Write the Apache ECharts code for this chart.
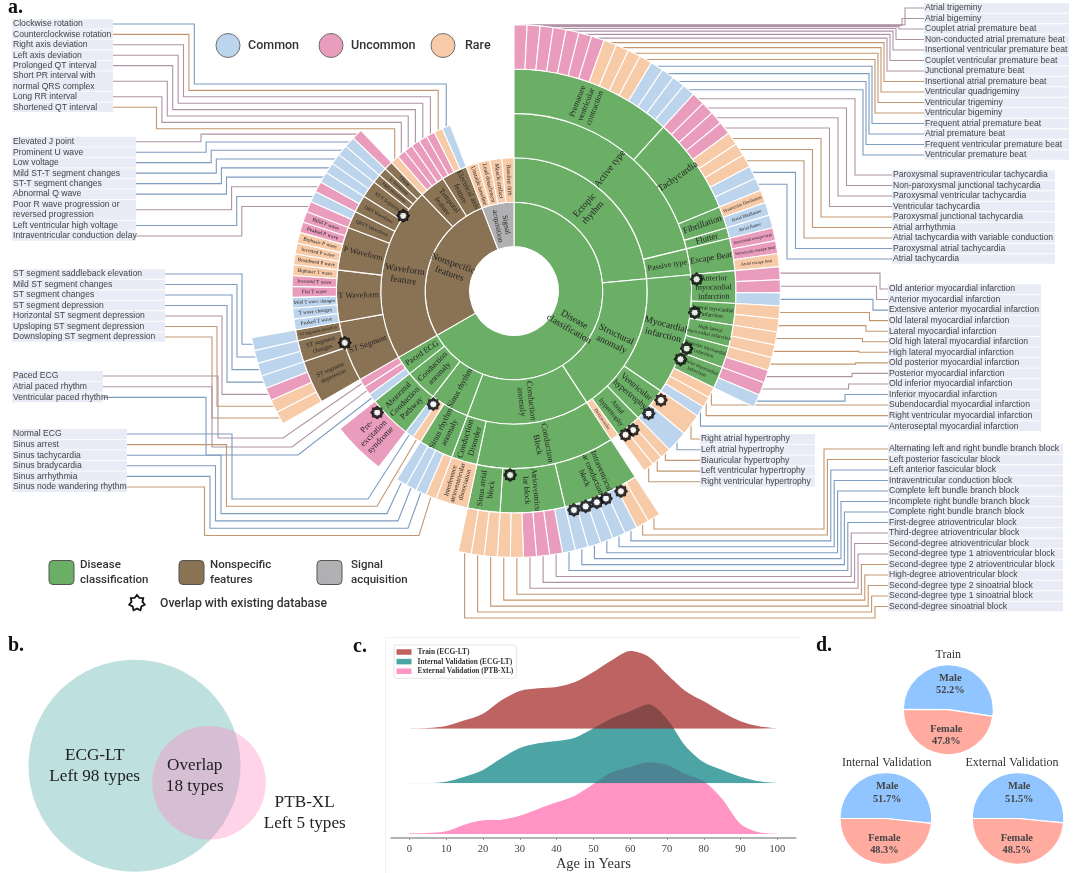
<!DOCTYPE html>
<html><head><meta charset="utf-8"><style>html,body{margin:0;padding:0;background:#fff}#c{width:1080px;height:873px}</style>
<script src="https://cdn.jsdelivr.net/npm/echarts@6/dist/echarts.min.js"></script></head>
<body><div id="c"></div>
<script>
// ---------- DATA: panel a, outermost categories, clockwise from 12 o'clock ----------
const premature=['Atrial trigeminy','Atrial bigeminy','Couplet atrial premature beat','Non-conducted atrial premature beat','Insertional ventricular premature beat','Couplet ventricular premature beat','Junctional premature beat','Insertional atrial premature beat','Ventricular quadrigeminy','Ventricular trigeminy','Ventricular bigeminy','Frequent atrial premature beat','Atrial premature beat','Frequent ventricular premature beat','Ventricular premature beat'];
const prematureCls='UUUUUUURRRRCCCC';
const tachycardia=['Paroxysmal supraventricular tachycardia','Non-paroxysmal junctional tachycardia','Paroxysmal ventricular tachycardia','Ventricular tachycardia','Paroxysmal junctional tachycardia','Atrial arrhythmia','Atrial tachycardia with variable conduction','Paroxysmal atrial tachycardia','Atrial tachycardia'];
const tachycardiaCls='UUUURRRCC';
const fibrillation=['Ventricular fibrillation','Atrial fibrillation'], fibrillationCls='RC';
const flutter=['Atrial flutter'], flutterCls='C';
const escapeBeat=['Junctional escape beat','Ventricular escape beat','Atrial escape beat'], escapeCls='UUR';
const miAnterior=['Old anterior myocardial infarction','Anterior myocardial infarction','Extensive anterior myocardial infarction'], miAnteriorCls='UUC';
const miLateral=['Old lateral myocardial infarction','Lateral myocardial infarction'], miLateralCls='RR';
const miHigh=['Old high lateral myocardial infarction','High lateral myocardial infarction'], miHighCls='RR';
const miPosterior=['Old posterior myocardial infarction','Posterior myocardial infarction'], miPosteriorCls='RU';
const miInferior=['Old inferior myocardial infarction','Inferior myocardial infarction'], miInferiorCls='UC';
const miOther=['Subendocardial myocardial infarction','Right ventricular myocardial infarction','Anteroseptal myocardial infarction'], miOtherCls='RRC';
const hyperA=['Right atrial hypertrophy','Left atrial hypertrophy'], hyperACls='RC';
const hyperB=['Biauricular hypertrophy','Left ventricular hypertrophy','Right ventricular hypertrophy'], hyperBCls='RRR';
const ivBlock=['Alternating left and right bundle branch block','Left posterior fascicular block','Left anterior fascicular block','Intraventricular conduction block','Complete left bundle branch block','Incomplete right bundle branch block','Complete right bundle branch block'], ivBlockCls='RRCCCCC';
const avBlock=['First-degree atrioventricular block','Third-degree atrioventricular block','Second-degree atrioventricular block','Second-degree type 1 atrioventricular block','Second-degree type 2 atrioventricular block','High-degree atrioventricular block'], avBlockCls='CUUURR';
const saBlock=['Second-degree type 2 sinoatrial block','Second-degree type 1 sinoatrial block','Second-degree sinoatrial block'], saBlockCls='RRR';
const sinusAnomaly=['Sinus node wandering rhythm','Sinus arrhythmia','Sinus bradycardia','Sinus tachycardia'], sinusAnomalyCls='RCCC';
const paced=['Ventricular paced rhythm','Atrial paced rhythm','Paced ECG'], pacedCls='CUU';
const stDepression=['Downsloping ST segment depression','Upsloping ST segment depression','Horizontal ST segment depression','ST segment depression'], stDepressionCls='RRUC';
const stChanges=['ST segment changes','Mild ST segment changes'], stChangesCls='CC';
const stElevation=['ST segment saddleback elevation'], stElevationCls='C';
const tWave=['Peaked T wave','T wave changes','Mild T wave changes','Flat T wave','Inverted T wave','Biphasic T wave'], tWaveCls='CCCUUR';
const pWave=['Broadened P wave','Inverted P wave','Biphasic P wave','Peaked P wave','Bifid P wave'], pWaveCls='RRRUU';
const qrstWave=['Intraventricular conduction delay','Left ventricular high voltage'], qrstCls='UC';
const qrsWave=['Poor R wave progression or reversed progression','Abnormal Q wave'], qrsCls='UC';
const sttSeg=['ST-T segment changes','Mild ST-T segment changes'], sttCls='CC';
const temporal=['Shortened QT interval','Long RR interval','Short PR interval with normal QRS complex','Prolonged QT interval'], temporalCls='RUUU';
const axisFeat=['Left axis deviation','Right axis deviation','Counterclockwise rotation','Clockwise rotation'], axisCls='UURC';
const signalCells=['Unstable baseline','Lead detachment','Muscle artifact','Baseline drift'];
// angular weights of the wider cells, in units of one ordinary leaf
const leafWeights={'Right atrial hypertrophy':2,'Left atrial hypertrophy':2,'Interference atrioventricular dissociation':3,'Pre-excitation syndrome':5,'Unstable baseline':1.86,'Lead detachment':1.86,'Muscle artifact':1.86,'Baseline drift':1.86};
const leafText={'Ventricular fibrillation':['Ventricular fibrillation',4.6],'Atrial fibrillation':['Atrial fibrillation',4.6],'Atrial flutter':['Atrial flutter',4.6],'Junctional escape beat':['Junctional escape beat',4.4],'Ventricular escape beat':['Ventricular escape beat',4.4],'Atrial escape beat':['Atrial escape beat',4.4],'Dextrocardia':['Dextrocardia',4.6],'Interference atrioventricular dissociation':['Interference\natrioventricular\ndissociation',6.6],'Pre-excitation syndrome':['Pre-\nexcitation\nsyndrome',8.5],'Bifid P wave':['Bifid P wave',5.4],'Peaked P wave':['Peaked P wave',5.4],'Biphasic P wave':['Biphasic P wave',5.2],'Inverted P wave':['Inverted P wave',5.2],'Broadened P wave':['Broadened P wave',5],'Biphasic T wave':['Biphasic T wave',5.2],'Inverted T wave':['Inverted T wave',5.2],'Flat T wave':['Flat T wave',5.2],'Mild T wave changes':['Mild T wave changes',4.8],'T wave changes':['T wave changes',5.2],'Peaked T wave':['Peaked T wave',5.2],'Unstable baseline':['Unstable baseline',5.8],'Lead detachment':['Lead detachment',5.8],'Muscle artifact':['Muscle artifact',5.8],'Baseline drift':['Baseline drift',5.8]};
// leader-line label lists, top to bottom
const listTemporal=['Clockwise rotation','Counterclockwise rotation','Right axis deviation','Left axis deviation','Prolonged QT interval','Short PR interval with\nnormal QRS complex','Long RR interval','Shortened QT interval'];
const listWave=['Elevated J point','Prominent U wave','Low voltage','Mild ST-T segment changes','ST-T segment changes','Abnormal Q wave','Poor R wave progression or\nreversed progression','Left ventricular high voltage','Intraventricular conduction delay'];
const listST=['ST segment saddleback elevation','Mild ST segment changes','ST segment changes','ST segment depression','Horizontal ST segment depression','Upsloping ST segment depression','Downsloping ST segment depression'];
const listPaced=['Paced ECG','Atrial paced rhythm','Ventricular paced rhythm'];
const listSinus=['Normal ECG','Sinus arrest','Sinus tachycardia','Sinus bradycardia','Sinus arrhythmia','Sinus node wandering rhythm'];
const listMI=['Old anterior myocardial infarction','Anterior myocardial infarction','Extensive anterior myocardial infarction','Old lateral myocardial infarction','Lateral myocardial infarction','Old high lateral myocardial infarction','High lateral myocardial infarction','Old posterior myocardial infarction','Posterior myocardial infarction','Old inferior myocardial infarction','Inferior myocardial infarction','Subendocardial myocardial infarction','Right ventricular myocardial infarction','Anteroseptal myocardial infarction'];
const listHyper=['Right atrial hypertrophy','Left atrial hypertrophy','Biauricular hypertrophy','Left ventricular hypertrophy','Right ventricular hypertrophy'];
const listBlock=ivBlock.concat(avBlock,saBlock);
// star markers: overlap with existing database [radius, angle]
const overlapRadius=[183,182,182,180,183,182,183,182,227,227,227,227,227,184,139,183,177,134];
const overlapAngle=[86.3,96.8,108.4,112.3,126.6,132.3,139.4,142.2,151.9,156.1,158.6,161.6,164.7,181.2,215.5,228.4,253,304.2];
// ---------- DATA: panel c ----------
const ages=[0,5,10,15,20,25,30,35,40,45,50,55,60,65,70,75,80,85,90,95,100];
const densityTrain=[0,2,8,25,45,85,113,121,125,140,170,205,233,216,163,113,82,50,22,7,1];
const densityInternal=[1,1,5,20,40,75,106,120,127,137,165,195,216,237,193,112,63,40,20,6,1];
const densityExternal=[2,3,8,28,41,43,55,75,95,115,150,185,201,215,207,180,158,105,30,5,1];
const ageTicks=[0,10,20,30,40,50,60,70,80,90,100];
// ---------- DATA: panel d ----------
const sexNames=['Male','Female'];
const sexTrain=[52.2,47.8], sexInternal=[51.7,48.3], sexExternal=[51.5,48.5];

// ---------- layout & style ----------
const CX=514,CY=291,RING=44.4;
const CLS={C:'#bcd4ec',U:'#ea9cbd',R:'#f7caa8'};
const LINE={C:'#7c9cc0',U:'#ae93a5',R:'#c3966f'};
const GREEN='#6bae65',BROWN='#8a7354',GREY='#b0b0b2';
const SERIF='"Liberation Serif",serif', SANS='"Liberation Sans",sans-serif', UI='Roboto,sans-serif';

function leaves(names,cls){return names.map((n,i)=>({leaf:1,name:n,cls:cls?cls[i]:'R',value:leafWeights[n]||1}));}
function b(name,text,size,children){return {name,text,size,children};}
const treeSpec=[
 {...b('Disease classification','Disease\nclassification',9.5,[
   b('Ectopic rhythm','Ectopic\nrhythm',9.5,[
     b('Active type','Active type',9.5,[
       b('Premature ventricular contraction','Premature\nventricular\ncontraction',8,leaves(premature,prematureCls)),
       b('Tachycardia','Tachycardia',9.5,leaves(tachycardia,tachycardiaCls)),
       b('Fibrillation','Fibrillation',9,leaves(fibrillation,fibrillationCls)),
       b('Flutter','Flutter',8.5,leaves(flutter,flutterCls))]),
     b('Passive type','Passive type',8,[b('Escape Beat','Escape Beat',8.5,leaves(escapeBeat,escapeCls))])]),
   b('Structural anomaly','Structural\nanomaly',9.5,[
     b('Myocardial infarction','Myocardial\ninfarction',9.5,[
       b('Anterior myocardial infarction','Anterior\nmyocardial\ninfarction',8,leaves(miAnterior,miAnteriorCls)),
       b('Lateral myocardial infarction','Lateral myocardial\ninfarction',5.5,leaves(miLateral,miLateralCls)),
       b('High lateral myocardial infarction','High lateral\nmyocardial infarction',5.2,leaves(miHigh,miHighCls)),
       b('Posterior myocardial infarction','Posterior myocardial\ninfarction',5.2,leaves(miPosterior,miPosteriorCls)),
       b('Inferior myocardial infarction','Inferior myocardial\ninfarction',5.2,leaves(miInferior,miInferiorCls))
     ].concat(leaves(miOther,miOtherCls))),
     b('Ventricular hypertrophy','Ventricular\nhypertrophy',8.5,leaves(hyperA,hyperACls)),
     b('Atrial hypertrophy','Atrial\nhypertrophy',7,leaves(hyperB,hyperBCls))
   ].concat(leaves(['Dextrocardia'],'R'))),
   b('Conduction anomaly','Conduction\nanomaly',8.5,[
     b('Conduction Block','Conduction\nBlock',8.5,[
       b('Intraventricular conduction block group','Intraventricul\nar conduction\nblock',8,leaves(ivBlock,ivBlockCls)),
       b('Atrioventricular block','Atrioventricu\nlar block',8,leaves(avBlock,avBlockCls)),
       b('Sinus atrial block','Sinus atrial\nblock',8,leaves(saBlock,saBlockCls))]),
     b('Conduction Disorder','Conduction\nDisorder',8.5,leaves(['Interference atrioventricular dissociation'],'R'))]),
   b('Sinus rhythm','Sinus rhythm',8.2,[
     b('Sinus rhythm anomaly','Sinus rhythm\nanomaly',8.2,leaves(sinusAnomaly,sinusAnomalyCls))
   ].concat(leaves(['Sinus arrest','Normal ECG'],'RC'))),
   b('Conduction pathway','Conduction\nanomaly',8.2,[
     b('Abnormal Conduction Pathway','Abnormal\nConduction\nPathway',8.2,leaves(['Pre-excitation syndrome'],'U'))]),
   b('Paced ECG group','Paced ECG',8.2,leaves(paced,pacedCls))
 ]),base:GREEN},
 {...b('Nonspecific features','Nonspecific\nfeatures',9.5,[
   b('Waveform feature','Waveform\nfeature',9.5,[
     b('ST Segment','ST Segment',8,[
       b('ST depression group','ST segment\ndepression',6.2,leaves(stDepression,stDepressionCls)),
       b('ST changes group','ST segment\nchanges',6.2,leaves(stChanges,stChangesCls)),
       b('ST elevation group','ST segment elevation',4.4,leaves(stElevation,stElevationCls))]),
     b('T Waveform','T Waveform',8,leaves(tWave,tWaveCls)),
     b('P Waveform','P Waveform',8,leaves(pWave,pWaveCls)),
     b('QRST Waveform','QRST Waveform',5,leaves(qrstWave,qrstCls)),
     b('QRS Waveform','QRS Waveform',5,leaves(qrsWave,qrsCls)),
     b('ST-T Segment','ST-T Segment',5,leaves(sttSeg,sttCls)),
     b('PR Waveform','P&R Waveform',4.6,leaves(['Low voltage'],'C')),
     b('U Waveform','U Waveform',4.6,leaves(['Prominent U wave'],'C')),
     b('J Point','J Point',4.6,leaves(['Elevated J point'],'U'))]),
   b('Temporal feature','Temporal\nfeature',7.5,leaves(temporal,temporalCls)),
   b('Electrical axis feature','Electrical axis\nfeature',7.5,leaves(axisFeat,axisCls))
 ]),base:BROWN},
 {...b('Signal acquisition','Signal\nacquisition',7.5,leaves(signalCells,'RRRR')),base:GREY}
];

// Build sunburst nodes and keep each leaf's angular position for the leader lines
const leafGeo={};
function totalOf(n){return n.children?n.children.reduce((s,c)=>s+totalOf(c),0):n.value;}
const totalUnits=treeSpec.reduce((s,n)=>s+totalOf(n),0);
const degPerUnit=360/totalUnits;
let cursor=0;
function toNode(spec,color,depth){
  if(spec.leaf){
    const w=spec.value*degPerUnit; leafGeo[spec.name]={mid:cursor+w/2,r:RING*(depth+1),cls:spec.cls}; cursor+=w;
    const t=leafText[spec.name];
    return {name:spec.name,value:spec.value,itemStyle:{color:CLS[spec.cls]},
      label:t?{show:true,formatter:t[0],fontSize:t[1],rotate:'radial',color:'#222',fontFamily:SERIF,lineHeight:t[1]*1.12}:{show:false}};
  }
  return {name:spec.name,itemStyle:{color},children:spec.children.map(c=>toNode(c,color,depth+1)),
    label:{show:true,formatter:spec.text,fontSize:spec.size,rotate:'radial',color:'#222',fontFamily:SERIF,lineHeight:spec.size*1.15}};
}
const sunData=treeSpec.map(s=>toNode(s,s.base,1));
function pt(name,r){const g=leafGeo[name.replace('\n',' ')],a=g.mid*Math.PI/180,R=r||g.r;return [CX+R*Math.sin(a),CY-R*Math.cos(a)];}
function lineCol(name){return LINE[leafGeo[name.replace('\n',' ')].cls];}

// ---------- graphic helpers ----------
const gfx=[];
function txt(x,y,text,o){o=o||{};gfx.push({type:'text',silent:true,z:o.z||20,style:{x,y,text,fontSize:o.size||10,fontFamily:o.font||SANS,fontWeight:o.weight||'normal',fill:o.fill||'#333',align:o.align||'left',textAlign:o.align||'left',verticalAlign:'middle',textVerticalAlign:'middle',lineHeight:o.lh||undefined}});}
function rect(x,y,w,h,fill,o){o=o||{};gfx.push({type:'rect',silent:true,z:o.z||1,shape:{x,y,width:w,height:h,r:o.r||0},style:{fill,stroke:o.stroke||null,lineWidth:o.lw||0}});}
function circle(x,y,r,fill,o){o=o||{};gfx.push({type:'circle',silent:true,z:o.z||1,shape:{cx:x,cy:y,r},style:{fill,stroke:o.stroke||null,lineWidth:o.lw||0}});}
function poly(points,stroke){gfx.push({type:'polyline',silent:true,z:2,shape:{points},style:{stroke,lineWidth:1.1,fill:null}});}
function starPts(cx,cy,R,r,n){const p=[];for(let i=0;i<2*n;i++){const a=Math.PI*i/n-Math.PI/2,q=i%2?r:R;p.push([cx+q*Math.cos(a),cy+q*Math.sin(a)]);}return p;}

// label list: rows with background, returns the centre y of each entry
function list(labels,x,w,y0,pitch,size){
  let row=0;const ys=[];
  labels.forEach(l=>{const lines=l.split('\n');
    rect(x,y0+row*pitch-pitch/2+0.4,w,lines.length*pitch-0.8,'#e9ecf6');
    lines.forEach((t,k)=>txt(x+1,y0+(row+k)*pitch,t,{size:size||8.6,fill:'#444'}));
    ys.push(y0+(row+(lines.length-1)/2)*pitch);row+=lines.length;});
  return ys;
}
// left lists
list(listTemporal,12,101,24,10.4).forEach((y,i)=>{const n=listTemporal[i],p=pt(n),X=194.3-i*5.4,Y=84+i*6.4;poly([[113,y],[X,y],[X,Y],[p[0],Y],p],lineCol(n));});
list(listWave,12,124,141.7,10.48).forEach((y,i)=>{const n=listWave[i],p=pt(n),X=201+i*5.1;poly([[136,y],[X,y],[X,p[1]],p],lineCol(n));});
list(listST,12,153,274,10.5).forEach((y,i)=>{const n=listST[i],p=pt(n),X=242-i*5;poly([[165,y],[X,y],[X,p[1]],p],lineCol(n));});
const pacedX=[218,212,206],pacedY=[438,447,455],pacedD=[283,292,298];
list(listPaced,12,91,376,10.7).forEach((y,i)=>{const n=listPaced[i],p=pt(n);poly([[103,y],[pacedX[i],y],[pacedX[i],pacedY[i]],[pacedD[i],pacedY[i]],p],lineCol(n));});
const sinusD=[368,377,387,398,408,419];
list(listSinus,12,115,434,10.6).forEach((y,i)=>{const n=listSinus[i],p=pt(n),X=232-i*5.5,Y=499+i*7.3;poly([[127,y],[X,y],[X,Y],[sinusD[i],Y],p],lineCol(n));});
// right lists
list(premature,924,145,8,10.5).forEach((y,i)=>{const n=premature[i],p=pt(n),X=905-i*3;poly([p,[X,p[1]],[X,y],[924,y]],lineCol(n));});
list(tachycardia,892,163,175,10.5).forEach((y,i)=>{const n=tachycardia[i],p=pt(n),X=787+(8-i)*8.5;poly([p,[X,p[1]],[X,y],[892,y]],lineCol(n));});
list(listMI,888,153,289,10.55).forEach((y,i)=>{const n=listMI[i],p=pt(n);
  if(i<11){const X=880-i*3.5;poly([p,[X,p[1]],[X,y],[888,y]],lineCol(n));}else poly([p,[p[0],y],[888,y]],lineCol(n));});
list(listHyper,700,115,439,10.7).forEach((y,i)=>{const n=listHyper[i],p=pt(n);poly([p,[p[0],y],[700,y]],lineCol(n));});
list(listBlock,888,175,449,10.5).forEach((y,i)=>{const n=listBlock[i],p=pt(n),X=824+3.4*i,Y=529+5.93*i;poly([p,[p[0],Y],[X,Y],[X,y],[888,y]],lineCol(n));});

// panel letters
[['a.',8,8],['b.',8,646],['c.',353,647],['d.',816,646]].forEach(l=>txt(l[1],l[2],l[0],{size:20,weight:'bold',font:SERIF,fill:'#111'}));
// top legend
[['Common',228,248,CLS.C],['Uncommon',331,351,CLS.U],['Rare',443,465,CLS.R]].forEach(l=>{circle(l[1],45.5,12,l[3],{stroke:'#6f6f6f',lw:1});txt(l[2],45.5,l[0],{size:12.5,font:UI,weight:500,fill:'#333'});});
// bottom legend
[['Disease\nclassification',49,80,GREEN],['Nonspecific\nfeatures',179,210,BROWN],['Signal\nacquisition',317,351,GREY]].forEach(l=>{rect(l[1],560.5,25,24,l[3],{r:4,stroke:'#555',lw:1});txt(l[2],572.5,l[0],{size:11.5,font:UI,weight:500,fill:'#333',lh:14.5});});
gfx.push({type:'polygon',silent:true,z:5,shape:{points:starPts(137,603,8,5.6,7)},style:{fill:'#fff',stroke:'#111',lineWidth:1.8}});
txt(160,604,'Overlap with existing database',{size:12.2,font:UI,weight:500,fill:'#333'});
// panel b: Venn
circle(134.5,765.8,106,'#bee0df');
circle(209,782.7,56.8,'rgba(255,136,193,0.37)',{z:2});
txt(94.7,766,'ECG-LT\nLeft 98 types',{align:'center',size:17.2,font:SERIF,fill:'#222',lh:20.5});
txt(194.7,776,'Overlap\n18 types',{align:'center',size:17.2,font:SERIF,fill:'#222',lh:20.5});
txt(304.7,813,'PTB-XL\nLeft 5 types',{align:'center',size:17.2,font:SERIF,fill:'#222',lh:20.5});
// panel c frame
gfx.push({type:'polyline',silent:true,z:0,shape:{points:[[385.5,873],[385.5,637.5],[800,637.5]]},style:{stroke:'#f1f1f1',lineWidth:1,fill:null}});

// ---------- panel c grids: ridge rows + shared age axis ----------
const xMin=-5,xMax=105,gridL=391,gridW=404.8,pxY=1/3;
function ridgeGrid(base,h){return {left:gridL,width:gridW,top:base-h,height:h};}
const ridgeBase=[728.7,783.3,834],ridgeH=86;
const grids=[...ridgeBase.map(bb=>ridgeGrid(bb,ridgeH)),ridgeGrid(842,40)];
const hiddenX=i=>({type:'value',gridIndex:i,min:xMin,max:xMax,show:false});
const hiddenY=i=>({type:'value',gridIndex:i,min:0,max:ridgeH/pxY,show:false});
const xAxes=[hiddenX(0),hiddenX(1),hiddenX(2),{type:'value',gridIndex:3,min:xMin,max:xMax,name:'Age in Years',nameLocation:'middle',nameGap:19,
  nameTextStyle:{fontFamily:SERIF,fontSize:14.5,color:'#333'},
  axisLine:{show:true,lineStyle:{color:'#9a9a9a',width:1.5}},splitLine:{show:false},
  axisTick:{show:true,length:2,lineStyle:{color:'#9a9a9a'},customValues:ageTicks},
  axisLabel:{customValues:ageTicks,fontFamily:SERIF,fontSize:10.5,color:'#444',margin:5.5}}];
const yAxes=[0,1,2,3].map(hiddenY);
function ridge(name,i,vals,solid,col,z){return {type:'line',name,xAxisIndex:i,yAxisIndex:i,data:ages.map((a,k)=>[a,vals[k]]),smooth:0.3,showSymbol:false,silent:true,z,
  itemStyle:{color:solid},lineStyle:{width:0},areaStyle:{color:col,opacity:0.7}};}
function sexPie(vals,cx,cy,r,start){return {type:'pie',center:[cx,cy],radius:[0,r],startAngle:start,silent:true,animation:false,
  data:sexNames.map((n,i)=>({name:n,value:vals[i],itemStyle:{color:i?'#ffaba0':'#90c5ff',borderColor:'#fff',borderWidth:1.2}})),
  label:{position:'inside',formatter:'{b}\n{c}%',fontFamily:SERIF,fontWeight:'bold',fontSize:10.4,lineHeight:12.5,color:'#444'},labelLine:{show:false}};}

const chart=echarts.init(document.getElementById('c'),null,{renderer:'canvas'});
chart.setOption({
  animation:false,backgroundColor:'#fff',
  title:[['Train',948.3,649],['Internal Validation',886.7,757],['External Validation',1012,757]].map(t=>({text:t[0],left:t[1],top:t[2],textAlign:'center',padding:0,textStyle:{fontFamily:SERIF,fontWeight:'normal',fontSize:12,color:'#333'}})),
  legend:{data:['Train (ECG-LT)','Internal Validation (ECG-LT)','External Validation (PTB-XL)'],orient:'vertical',left:394,top:645,icon:'rect',itemWidth:15,itemHeight:5.5,itemGap:2.6,padding:[3.5,3,3.5,2.5],
    borderColor:'#ddd',borderWidth:0.8,borderRadius:2,textStyle:{fontFamily:SERIF,fontWeight:'bold',fontSize:7.4,color:'#333',padding:[0,0,0,1]}},
  polar:{center:[CX,CY],radius:RING*6},
  radiusAxis:{polarIndex:0,min:0,max:RING*6,show:false},
  angleAxis:{polarIndex:0,min:0,max:360,startAngle:90,clockwise:true,show:false},
  grid:grids,xAxis:xAxes,yAxis:yAxes,
  graphic:gfx,
  series:[
    {type:'sunburst',center:[CX,CY],radius:[0,RING*6],startAngle:90,sort:null,nodeClick:false,silent:true,z:3,
     emphasis:{disabled:true},itemStyle:{borderColor:'#fff',borderWidth:1.1},
     levels:[{},...[1,2,3,4,5].map(k=>({r0:RING*k,r:RING*(k+1)}))],data:sunData},
    {type:'scatter',coordinateSystem:'polar',polarIndex:0,silent:true,z:6,symbolSize:10.5,
     symbol:'path://'+(function(){return 'M'+starPts(50,50,50,40,8).map(p=>p[0].toFixed(1)+' '+p[1].toFixed(1)).join('L')+'Z';})(),
     itemStyle:{color:'#fff',borderColor:'#000',borderWidth:2.8},
     data:overlapRadius.map((r,i)=>[r,overlapAngle[i]])},
    ridge('External Validation (PTB-XL)',2,densityExternal,'#ff94c5','#ff66ac',2),
    ridge('Internal Validation (ECG-LT)',1,densityInternal,'#4aa5a5','#007e7e',3),
    ridge('Train (ECG-LT)',0,densityTrain,'#bd6462','#a1221f',4),
    sexPie(sexTrain,948.3,709.7,45,179.5),
    sexPie(sexInternal,885.8,818.5,45.8,180),
    sexPie(sexExternal,1018,818.5,45.8,180)
  ]
});
</script></body></html>
